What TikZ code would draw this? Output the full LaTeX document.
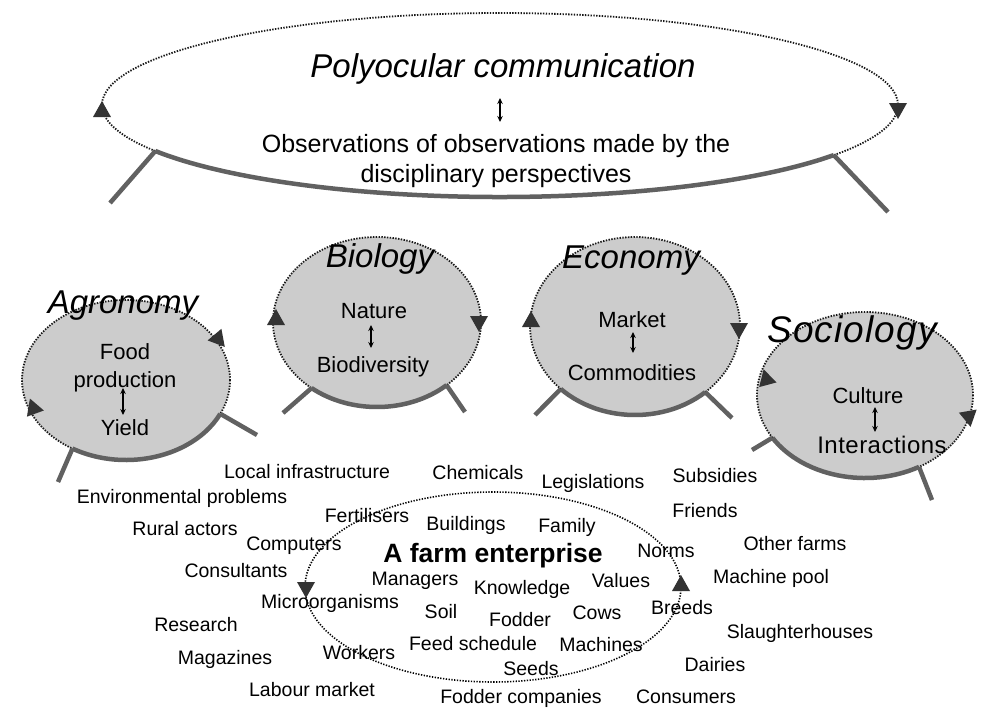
\documentclass[tikz,border=0pt]{standalone}
\usepackage{fontspec}
\setmainfont{Liberation Sans}
\usetikzlibrary{arrows.meta}
% #1 centre, #2 rx, #3 ry, #4 right angle, #5 left angle, #6 right leg end, #7 left leg end, #8 name
\newcommand\discell[8]{%
  \fill[circfill] (#1) ellipse [x radius=#2, y radius=#3];
  \draw[dotl] (#1) ellipse [x radius=#2, y radius=#3];
  \path (#1) ++(#4:#2 and #3) coordinate (#8R) (#1) ++(#5:#2 and #3) coordinate (#8L);
  \coordinate (#8Re) at (#6);
  \coordinate (#8Le) at (#7);
  \draw[basearc] (#8R) arc[start angle=#4, end angle=#5, x radius=#2, y radius=#3];
  \draw[leg] (#8R) -- (#8Re);
  \draw[leg] (#8L) -- (#8Le);
}
\begin{document}
\begin{tikzpicture}[x=1pt,y=-1pt,
  txt/.style={inner sep=0pt, anchor=base},
  lbl/.style={txt, font=\fontsize{19.5}{23}\selectfont},
  inr/.style={txt, font=\fontsize{22}{28}\selectfont},
  head/.style={txt, font=\fontsize{33}{38}\selectfont\itshape},
  dotl/.style={line width=1.8pt, dash pattern=on 1.4pt off 1.4pt, black!90},
  basearc/.style={line width=4.5pt, black!62},
  leg/.style={line width=4.5pt, black!62},
  circfill/.style={fill=black!20},
  dbl/.style={{Stealth[length=6pt,width=5.5pt]}-{Stealth[length=6pt,width=5.5pt]}, line width=1.3pt},
  tri/.pic={\fill[black!80] (-9,-7) -- (9,-7) -- (0,9) -- cycle;}
]
\useasboundingbox (0,0) rectangle (988,710);

% ---- top ellipse: polyocular communication
\draw[dotl] (500,105) ellipse [x radius=398, y radius=92];
\path (500,105) ++(33:398 and 92) coordinate (topR) (500,105) ++(150:398 and 92) coordinate (topL);
\coordinate (topRe) at (888,212);
\coordinate (topLe) at (110,203);
\draw[basearc] (topR) arc[start angle=33, end angle=150, x radius=398, y radius=92];
\draw[leg] (topR) -- (topRe);
\draw[leg] (topL) -- (topLe);
\pic[rotate=180] at (102,110) {tri};
\pic at (898,110) {tri};
\node[head] (poly) at (503,77) {Polyocular communication};
\node[txt, anchor=north, align=center, font=\fontsize{25}{30}\selectfont] (obs) at (496,134)
  {Observations of observations made by the\\disciplinary perspectives};
\coordinate (pa1) at (500,98); \coordinate (pa2) at (500,122);
\draw[dbl] (pa1) -- (pa2);

% ---- Agronomy
\discell{126,380}{104}{80}{25}{121}{257,435}{58,482}{agro}
\pic[rotate=200] at (33,407) {tri};
\pic[rotate=40] at (219,340) {tri};
\node[head] (agron) at (123,313) {Agronomy};
\node[inr, anchor=north, align=center, font=\fontsize{22}{28}\selectfont] (food) at (125,343) {Food\\production};
\node[inr] (yield) at (125,435) {Yield};
\coordinate (aa1) at (123,388); \coordinate (aa2) at (123,415);
\draw[dbl] (aa1) -- (aa2);

% ---- Biology
\discell{377,322}{104}{85}{48}{129}{465,412}{283,413}{bio}
\pic[rotate=180] at (276,318) {tri};
\pic at (479,323) {tri};
\node[head] (biol) at (380,267) {Biology};
\node[inr] (nature) at (374,318) {Nature};
\node[inr] (biodiv) at (373,372) {Biodiversity};
\coordinate (ba1) at (371,325); \coordinate (ba2) at (371,348);
\draw[dbl] (ba1) -- (ba2);

% ---- Economy
\discell{635,326}{105}{89}{48}{135}{732,418}{535,415}{eco}
\pic[rotate=180] at (531,320) {tri};
\pic at (739,330) {tri};
\node[head] (econ) at (631,268) {Economy};
\node[inr] (market) at (632,327) {Market};
\node[inr] (commod) at (632,380) {Commodities};
\coordinate (ea1) at (633,332); \coordinate (ea2) at (633,353);
\draw[dbl] (ea1) -- (ea2);

% ---- Sociology
\discell{865,395}{108}{83}{60}{149}{932,500}{752,450}{soc}
\pic[rotate=195] at (766,378) {tri};
\pic[rotate=10] at (969,418) {tri};
\node[head, font=\fontsize{37}{42}\selectfont\itshape\addfontfeatures{LetterSpace=3}] (socio) at (852,342) {Sociology};
\node[inr] (culture) at (868,403) {Culture};
\node[inr, font=\fontsize{24}{28}\selectfont\addfontfeatures{LetterSpace=2}] (interact) at (882,453) {Interactions};
\coordinate (sa1) at (875,407); \coordinate (sa2) at (875,432);
\draw[dbl] (sa1) -- (sa2);

% ---- farm enterprise
\draw[line width=1.6pt, dash pattern=on 1.3pt off 1.5pt, black] (493,587) ellipse [x radius=188, y radius=95];
\pic at (306,589) {tri};
\pic[rotate=180] at (681,584) {tri};
\node[txt, font=\fontsize{26.5}{30}\selectfont\bfseries] (farm) at (493,562) {A farm enterprise};

\node[lbl] (l1) at (307,478) {Local infrastructure};
\node[lbl] (l2) at (478,479) {Chemicals};
\node[lbl] (l3) at (593,488) {Legislations};
\node[lbl] (l4) at (715,482) {Subsidies};
\node[lbl] (l5) at (182,503) {Environmental problems};
\node[lbl] (l6) at (705,517) {Friends};
\node[lbl] (l7) at (367,522) {Fertilisers};
\node[lbl] (l8) at (466,530) {Buildings};
\node[lbl] (l9) at (567,532) {Family};
\node[lbl] (l10) at (185,535) {Rural actors};
\node[lbl] (l11) at (294,550) {Computers};
\node[lbl] (l12) at (795,550) {Other farms};
\node[lbl] (l13) at (666,557) {Norms};
\node[lbl] (l14) at (236,577) {Consultants};
\node[lbl] (l15) at (415,585) {Managers};
\node[lbl] (l16) at (771,583) {Machine pool};
\node[lbl] (l17) at (621,587) {Values};
\node[lbl] (l18) at (522,594) {Knowledge};
\node[lbl] (l19) at (330,608) {Microorganisms};
\node[lbl] (l20) at (682,614) {Breeds};
\node[lbl] (l21) at (441,618) {Soil};
\node[lbl] (l22) at (597,619) {Cows};
\node[lbl] (l23) at (520,626) {Fodder};
\node[lbl] (l24) at (196,631) {Research};
\node[lbl] (l25) at (800,638) {Slaughterhouses};
\node[lbl] (l26) at (473,650) {Feed schedule};
\node[lbl] (l27) at (601,651) {Machines};
\node[lbl] (l28) at (359,659) {Workers};
\node[lbl] (l29) at (225,664) {Magazines};
\node[lbl] (l30) at (715,671) {Dairies};
\node[lbl] (l31) at (531,675) {Seeds};
\node[lbl] (l32) at (312,696) {Labour market};
\node[lbl] (l33) at (521,703) {Fodder companies};
\node[lbl] (l34) at (686,703) {Consumers};
\end{tikzpicture}
\end{document}
